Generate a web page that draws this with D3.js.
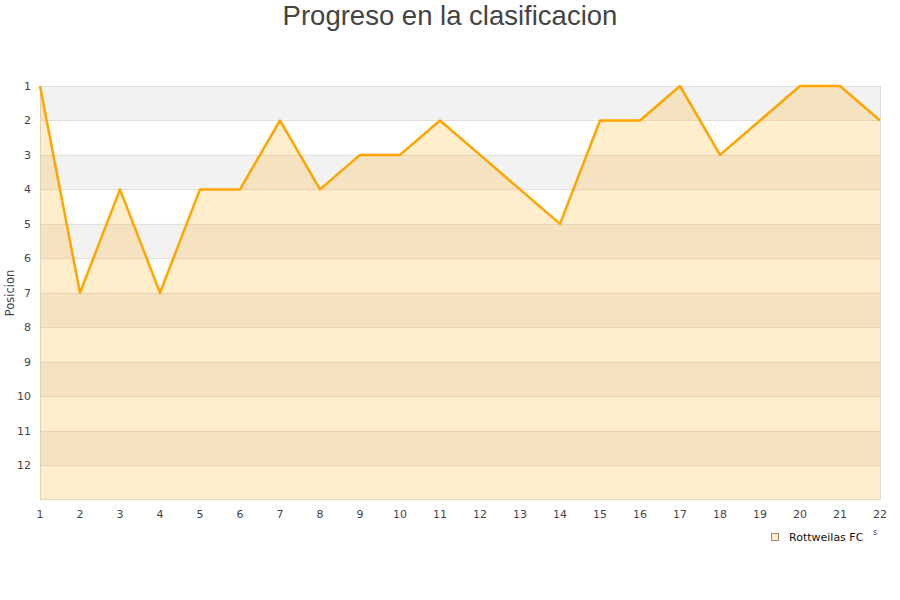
<!DOCTYPE html>
<html>
<head>
<meta charset="utf-8">
<script src="https://cdn.jsdelivr.net/npm/d3@7"></script>
<style>
  body { margin: 0; background: #fff; }
  svg { display: block; }
</style>
</head>
<body>
<svg id="chart" width="900" height="600"></svg>
<script>
const jornadas = [1,2,3,4,5,6,7,8,9,10,11,12,13,14,15,16,17,18,19,20,21,22];
const posiciones = [1,7,4,7,4,4,2,4,3,3,2,3,4,5,2,2,1,3,2,1,1,2];
const yTicks = [1,2,3,4,5,6,7,8,9,10,11,12];
const seriesName = "Rottweilas FC";
const chartTitle = "Progreso en la clasificacion";
const yTitle = "Posicion";

(function () {
const svg = d3.select("#chart");
const pLeft = 40, pRight = 880, pTop = 86, pBottom = 499.5;

const x = d3.scaleLinear().domain([1, 22]).range([pLeft, pRight]);
const y = d3.scaleLinear().domain([1, 13]).range([pTop, pBottom]);

// bands
const bands = d3.range(1, 13);
svg.append("g").selectAll("rect").data(bands).join("rect")
  .attr("x", pLeft).attr("width", pRight - pLeft)
  .attr("y", d => y(d)).attr("height", d => y(d + 1) - y(d))
  .attr("fill", d => d % 2 === 1 ? "#f2f2f2" : "#ffffff");

// grid lines
svg.append("g").selectAll("line").data(d3.range(2, 13)).join("line")
  .attr("x1", pLeft).attr("x2", pRight)
  .attr("y1", d => Math.round(y(d)) + 0.5).attr("y2", d => Math.round(y(d)) + 0.5)
  .attr("stroke", "#e0e0e0").attr("stroke-width", 1);

// plot border
svg.append("rect")
  .attr("x", pLeft + 0.5).attr("y", pTop + 0.5)
  .attr("width", pRight - pLeft).attr("height", pBottom - pTop - 0.5)
  .attr("fill", "none").attr("stroke", "#dddddd");

const pts = jornadas.map((j, i) => [j, posiciones[i]]);

// area
svg.append("path")
  .datum(pts)
  .attr("d", d3.area().x(d => x(d[0])).y0(y(13)).y1(d => y(d[1])))
  .attr("fill", "#ffa500").attr("fill-opacity", 0.2);

// line
svg.append("path")
  .datum(pts)
  .attr("d", d3.line().x(d => x(d[0])).y(d => y(d[1])))
  .attr("fill", "none").attr("stroke", "#ffa500").attr("stroke-width", 2.5)
  .attr("stroke-linejoin", "round");

// y axis labels
svg.append("g").selectAll("text").data(yTicks).join("text")
  .attr("x", 31).attr("y", d => y(d) + 4)
  .attr("text-anchor", "end")
  .attr("font-family", "DejaVu Sans, sans-serif").attr("font-size", 11)
  .attr("fill", "#444")
  .text(d => d);

// x axis labels
svg.append("g").selectAll("text").data(jornadas).join("text")
  .attr("x", d => x(d)).attr("y", 518)
  .attr("text-anchor", "middle")
  .attr("font-family", "DejaVu Sans, sans-serif").attr("font-size", 11)
  .attr("fill", "#444")
  .text(d => d);

// y title
svg.append("text")
  .attr("transform", "translate(14,293) rotate(-90)")
  .attr("text-anchor", "middle")
  .attr("font-family", "DejaVu Sans, sans-serif").attr("font-size", 11.5)
  .attr("fill", "#444")
  .text(yTitle);

// title
svg.append("text")
  .attr("x", 450).attr("y", 25)
  .attr("text-anchor", "middle")
  .attr("font-family", "Liberation Sans, Arial, sans-serif").attr("font-size", 27.5)
  .attr("fill", "#444")
  .text(chartTitle);

// legend
svg.append("rect")
  .attr("x", 771.5).attr("y", 533.5).attr("width", 7).attr("height", 7)
  .attr("fill", "#ffedcc").attr("stroke", "#a08c6c");
svg.append("text")
  .attr("x", 789).attr("y", 541)
  .attr("font-family", "DejaVu Sans, sans-serif").attr("font-size", 11)
  .attr("fill", "#111")
  .text(seriesName);
svg.append("text")
  .attr("x", 873).attr("y", 535)
  .attr("font-family", "DejaVu Sans, sans-serif").attr("font-size", 8)
  .attr("fill", "#444")
  .text("s");
})();
</script>
</body>
</html>
